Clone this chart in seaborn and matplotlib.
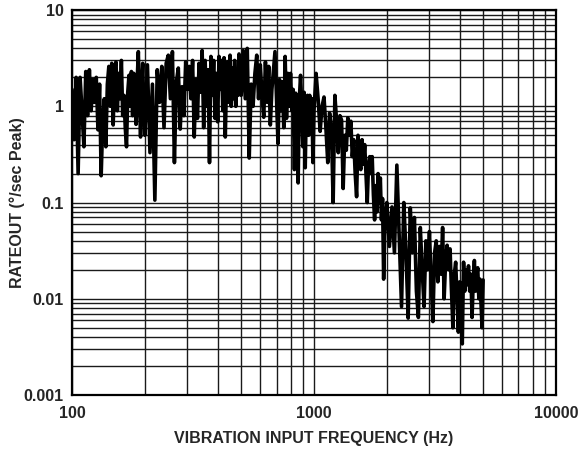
import matplotlib
matplotlib.use("Agg")
import matplotlib.pyplot as plt
from matplotlib.ticker import FixedLocator, FixedFormatter, LogLocator, NullFormatter
import seaborn as sns
import pandas as pd

# ---- data ----
FREQ_HZ = [
    100, 102, 104, 106, 108, 110, 112, 114, 116, 118, 120, 122, 124, 126, 128, 130, 132, 134, 136, 138,
    140, 142, 144, 146, 148, 150, 152, 154, 156, 158, 160, 162, 164, 166, 168, 170, 172, 174, 176, 178,
    180, 182, 184, 186, 188, 190, 192, 194, 196, 198,
    200, 205, 210, 215, 220, 225, 230, 235, 240, 245, 250, 255, 260, 265, 270, 275, 280, 285, 290, 295,
    300, 305, 310, 315, 320, 325, 330, 335, 340, 345, 350, 355, 360, 365, 370, 375, 380, 385, 390, 395,
    400, 405, 410, 415, 420, 425, 430, 435, 440, 445, 450, 455, 460, 465, 470, 475, 480, 485, 490, 495,
    500, 510, 520, 530, 540, 550, 560, 570, 580, 590, 600, 610, 620, 630, 640, 650, 660, 670, 680, 690,
    700, 710, 720, 730, 740, 750, 760, 770, 780, 790, 800, 810, 820, 830, 840, 850, 860, 870, 880, 890,
    900, 910, 920, 930, 940, 950, 960, 970, 980, 990,
    1000, 1020, 1040, 1060, 1080, 1100, 1120, 1140, 1160, 1180, 1200, 1220, 1240, 1260, 1280, 1300,
    1320, 1340, 1360, 1380, 1400, 1420, 1440, 1460, 1480, 1500, 1520, 1540, 1560, 1580, 1600, 1620,
    1640, 1660, 1680, 1700, 1720, 1740, 1760, 1780, 1800, 1820, 1840, 1860, 1880, 1900, 1920, 1940,
    1960, 1980,
    2000, 2050, 2100, 2150, 2200, 2250, 2300, 2350, 2400, 2450, 2500, 2550, 2600, 2650, 2700, 2750,
    2800, 2850, 2900, 2950, 3000, 3050, 3100, 3150, 3200, 3250, 3300, 3350, 3400, 3450, 3500, 3550,
    3600, 3650, 3700, 3750, 3800, 3850, 3900, 3950, 4000, 4050, 4100, 4150, 4200, 4250, 4300, 4350,
    4400, 4450, 4500, 4550, 4600, 4650, 4700, 4750, 4800, 4850, 4900, 4950, 5000,
]
RATEOUT_DPS = [
    1.5, 0.45, 2.0, 0.2, 2.0, 0.9, 0.38, 2.3, 0.8, 2.4, 0.9, 1.9, 1.1, 2.0, 0.57, 1.7, 0.19, 0.7, 1.2, 0.38,
    1.7, 2.6, 1.0, 2.8, 0.64, 2.4, 2.9, 0.9, 2.2, 1.2, 3.0, 0.8, 1.3, 0.6, 0.38, 1.4, 2.1, 1.0, 2.3, 0.8,
    2.2, 1.2, 0.65, 1.9, 3.7, 1.2, 0.48, 1.6, 2.8, 0.9,
    0.5, 2.7, 0.33, 1.7, 0.106, 2.4, 1.1, 2.6, 0.6, 2.8, 3.4, 1.2, 3.7, 0.26, 1.8, 2.5, 0.58, 1.6, 0.8, 2.9,
    1.5, 2.6, 1.2, 3.0, 0.48, 1.9, 0.75, 2.8, 1.4, 3.8, 0.6, 3.0, 1.0, 2.4, 0.26, 3.3, 1.3, 3.0, 0.75, 2.2,
    0.69, 3.3, 1.5, 3.0, 0.9, 3.2, 0.48, 1.8, 2.9, 1.1, 3.4, 1.0, 2.5, 1.2, 3.0, 1.0, 2.2, 1.3, 3.5, 1.5,
    1.3, 3.8, 1.2, 4.0, 0.29, 1.7, 1.0, 2.2, 3.4, 1.2, 2.7, 1.3, 0.77, 2.9, 1.1, 2.6, 0.64, 1.5, 2.4, 3.7,
    1.2, 0.41, 1.9, 0.9, 1.8, 0.6, 3.3, 0.75, 2.2, 1.0, 2.2, 0.9, 1.5, 0.22, 1.37, 0.5, 0.16, 1.2, 2.1, 1.0,
    0.38, 1.4, 0.23, 1.1, 1.3, 0.5, 1.3, 0.6, 1.2, 0.26,
    0.9, 2.2, 1.2, 0.55, 1.0, 1.25, 0.6, 0.26, 0.85, 0.6, 0.1, 1.3, 0.7, 0.33, 0.8, 0.72,
    0.14, 0.5, 0.35, 0.76, 0.5, 0.7, 0.3, 0.45, 0.2, 0.115, 0.5, 0.3, 0.22, 0.45, 0.25, 0.4,
    0.2, 0.1, 0.25, 0.3, 0.2, 0.3, 0.12, 0.066, 0.15, 0.08, 0.2, 0.1, 0.18, 0.066, 0.11, 0.016,
    0.05, 0.08,
    0.1, 0.035, 0.09, 0.03, 0.245, 0.045, 0.0083, 0.1, 0.03, 0.0063, 0.088, 0.03, 0.07, 0.012, 0.0064, 0.055,
    0.02, 0.0083, 0.04, 0.02, 0.05, 0.015, 0.0058, 0.03, 0.04, 0.015, 0.035, 0.018, 0.055, 0.01, 0.025, 0.036,
    0.02, 0.033, 0.012, 0.005, 0.018, 0.024, 0.01, 0.0045, 0.015, 0.006, 0.0034, 0.024, 0.012, 0.02, 0.014, 0.022,
    0.012, 0.018, 0.0064, 0.015, 0.025, 0.012, 0.017, 0.021, 0.01, 0.016, 0.009, 0.005, 0.0157,
]
X_TICKS = [100, 1000, 10000]
X_TICK_LABELS = ["100", "1000", "10000"]
Y_TICKS = [0.001, 0.01, 0.1, 1, 10]
Y_TICK_LABELS = ["0.001", "0.01", "0.1", "1", "10"]
X_LABEL = "VIBRATION INPUT FREQUENCY (Hz)"
Y_LABEL = "RATEOUT (°/sec Peak)"

df = pd.DataFrame({"freq": FREQ_HZ, "rate": RATEOUT_DPS})

sns.set_theme(style="white")
plt.rcParams["font.family"] = ["Liberation Sans", "DejaVu Sans"]

fig = plt.figure(figsize=(5.82, 4.59), dpi=100)
ax = fig.add_axes([0.1237, 0.1394, 0.8316, 0.8386])

sns.lineplot(data=df, x="freq", y="rate", ax=ax, color="black", linewidth=2.6,
             sort=False, estimator=None, zorder=3)

ax.set_xscale("log")
ax.set_yscale("log")
ax.set_xlim(100, 10000)
ax.set_ylim(0.001, 10)

ax.xaxis.set_major_locator(FixedLocator(X_TICKS))
ax.xaxis.set_major_formatter(FixedFormatter(X_TICK_LABELS))
ax.yaxis.set_major_locator(FixedLocator(Y_TICKS))
ax.yaxis.set_major_formatter(FixedFormatter(Y_TICK_LABELS))
ax.xaxis.set_minor_locator(LogLocator(base=10, subs=range(2, 10), numticks=20))
ax.yaxis.set_minor_locator(LogLocator(base=10, subs=range(2, 10), numticks=20))
ax.xaxis.set_minor_formatter(NullFormatter())
ax.yaxis.set_minor_formatter(NullFormatter())

ax.grid(True, which="both", color="#1a1a1a", linewidth=1.0)
ax.set_axisbelow(True)
ax.tick_params(which="both", length=0)
ax.tick_params(axis="x", pad=8, labelsize=11.5)
ax.tick_params(axis="y", pad=6, labelsize=11.5)
for lab in ax.get_xticklabels() + ax.get_yticklabels():
    lab.set_fontweight("bold")

for s in ax.spines.values():
    s.set_visible(True)
    s.set_color("black")
    s.set_linewidth(1.6)

ax.set_xlabel(X_LABEL, fontsize=11.5, fontweight="bold")
ax.xaxis.set_label_coords(0.5, -0.093)
ax.set_ylabel(Y_LABEL, fontsize=11.5, fontweight="bold")
ax.yaxis.set_label_coords(-0.098, 0.5)

fig.savefig("out.png", dpi=100)
